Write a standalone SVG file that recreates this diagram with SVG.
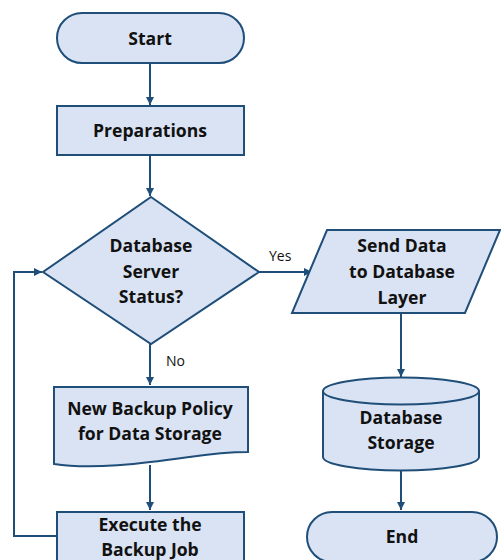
<svg xmlns="http://www.w3.org/2000/svg" width="501" height="560" viewBox="0 0 501 560">
<defs>
<marker id="ah" markerWidth="10" markerHeight="10" refX="9" refY="5" orient="auto" markerUnits="userSpaceOnUse">
<path d="M1,1 L9,5 L1,9 Z" fill="#1f4e79"/>
</marker>
<style>
.s{fill:#dae3f3;stroke:#1f4e79;stroke-width:2}
.t{font-family:"Open Sans","Liberation Sans",sans-serif;font-weight:bold;font-size:17.6px;fill:#111;text-anchor:middle}
.l{font-family:"Open Sans","Liberation Sans",sans-serif;font-size:14px;fill:#111;text-anchor:start}
.c{fill:none;stroke:#1f4e79;stroke-width:2}
</style>
</defs>
<rect width="501" height="560" fill="#fff"/>
<g id="connectors">
<path class="c" d="M150,63 L150,105" marker-end="url(#ah)"/>
<path class="c" d="M150,155 L150,196" marker-end="url(#ah)"/>
<path class="c" d="M259,272 L312,272" marker-end="url(#ah)"/>
<path class="c" d="M150,344 L150,385" marker-end="url(#ah)"/>
<path class="c" d="M150,465 L150,510" marker-end="url(#ah)"/>
<path class="c" d="M57,536 L14,536 L14,272 L42,272" marker-end="url(#ah)"/>
<path class="c" d="M401,313 L401,377" marker-end="url(#ah)"/>
<path class="c" d="M401,470 L401,510" marker-end="url(#ah)"/>
<text class="l" x="269" y="261">Yes</text>
<text class="l" x="166" y="366">No</text>
</g>
<g id="start">
<rect class="s" x="57" y="13" width="187" height="50" rx="25"/>
<text class="t" x="150" y="45">Start</text>
</g>
<g id="preparations">
<rect class="s" x="57" y="106" width="187" height="49"/>
<text class="t" x="150" y="137">Preparations</text>
</g>
<g id="decision">
<path class="s" d="M151,197 L259,272 L151,344 L43,272 Z"/>
<text class="t" x="151" y="252">Database</text>
<text class="t" x="151" y="278">Server</text>
<text class="t" x="151" y="303">Status?</text>
</g>
<g id="send">
<path class="s" d="M327,230 L500,230 L465,313 L292,313 Z"/>
<text class="t" x="402" y="252">Send Data</text>
<text class="t" x="402" y="278">to Database</text>
<text class="t" x="402" y="304">Layer</text>
</g>
<g id="storage">
<path class="s" d="M323,391 L323,457 A78,13.5 0 0 0 479,457 L479,391"/>
<ellipse class="s" cx="401" cy="391" rx="78" ry="13.5"/>
<text class="t" x="401" y="424">Database</text>
<text class="t" x="401" y="449">Storage</text>
</g>
<g id="end">
<rect class="s" x="307" y="512" width="190" height="50" rx="25"/>
<text class="t" x="402" y="543">End</text>
</g>
<g id="policy">
<path class="s" d="M54,387 L248,387 L248,452 C210,452 190,458 150,462 C110,467 80,468 54,464 Z"/>
<text class="t" x="150" y="415">New Backup Policy</text>
<text class="t" x="150" y="440">for Data Storage</text>
</g>
<g id="execute">
<rect class="s" x="57" y="512" width="187" height="52"/>
<text class="t" x="150" y="531">Execute the</text>
<text class="t" x="150" y="556">Backup Job</text>
</g>
</svg>
